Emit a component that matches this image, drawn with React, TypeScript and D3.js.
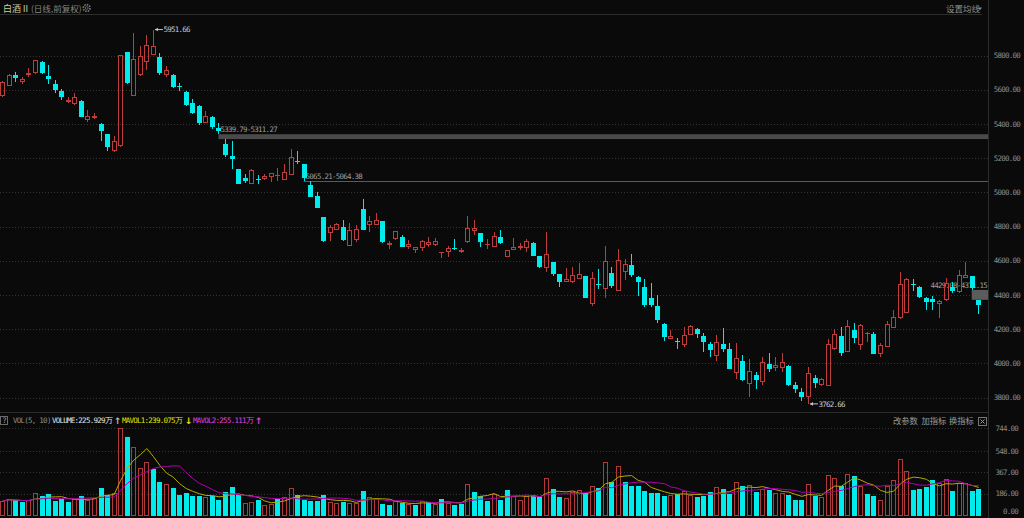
import React from 'react';
import * as d3 from 'd3';

// Daily candles, 白酒Ⅱ (前复权), oldest first
const opens = [
  5563, 5623, 5686, 5645, 5686, 5696, 5762, 5680, 5632, 5594,
  5528, 5515, 5535, 5425, 5433, 5401, 5339, 5242, 5273, 5819,
  5565, 5684, 5764, 5805, 5791, 5688, 5686, 5622, 5585, 5520,
  5506, 5407, 5440, 5376, 5284, 5212, 5136, 5085, 5050, 5077,
  5080, 5091, 5095, 5074, 5101, 5183, 5165, 5043, 4980, 4856,
  4760, 4781, 4795, 4688, 4721, 4900, 4807, 4811, 4832, 4692,
  4725, 4741, 4682, 4664, 4676, 4692, 4690, 4647, 4649, 4676,
  4649, 4708, 4772, 4760, 4690, 4682, 4737, 4624, 4664, 4673,
  4676, 4705, 4627, 4555, 4592, 4522, 4477, 4474, 4495, 4510,
  4349, 4466, 4433, 4526, 4423, 4534, 4575, 4506, 4444, 4384,
  4333, 4232, 4142, 4130, 4109, 4165, 4200, 4160, 4111, 4043,
  4111, 4082, 3941, 4013, 3877, 3932, 3893, 3996, 3974, 3974,
  3986, 3873, 3832, 3805, 3912, 3875, 3867, 4082, 4160, 4068,
  4193, 4107, 4175, 4170, 4053, 4097, 4208, 4263, 4296, 4466,
  4444, 4384, 4374, 4345, 4369, 4448, 4415, 4501, 4510, 4371,
];
const highs = [
  5650, 5690, 5705, 5676, 5725, 5775, 5770, 5744, 5655, 5604,
  5557, 5583, 5537, 5480, 5462, 5405, 5342, 5331, 5805, 5822,
  5930, 5857, 5922, 5951.66, 5813, 5740, 5690, 5638, 5590, 5544,
  5508, 5475, 5444, 5403, 5311.27, 5300, 5138, 5107, 5135, 5099,
  5107, 5114, 5140, 5165, 5251, 5242, 5168, 5064.38, 5004, 4858,
  4809, 4820, 4838, 4819, 4809, 4959, 4863, 4881, 4835, 4716,
  4774, 4750, 4721, 4680, 4720, 4741, 4735, 4653, 4686, 4727,
  4672, 4861, 4838, 4762, 4727, 4766, 4780, 4664, 4731, 4702,
  4727, 4708, 4630, 4766, 4595, 4525, 4559, 4565, 4585, 4512,
  4532, 4550, 4686, 4565, 4668, 4608, 4641, 4510, 4491, 4471,
  4400, 4234, 4195, 4146, 4214, 4224, 4208, 4176, 4126, 4165,
  4205, 4121, 4117, 4048, 4023, 3947, 4035, 4058, 4039, 4058,
  3990, 3892, 3853, 3980, 3932, 3912, 4142, 4199, 4214, 4253,
  4234, 4229, 4181, 4181, 4117, 4247, 4312, 4536, 4501, 4493,
  4454, 4386, 4395, 4368, 4501, 4477, 4546, 4594, 4512, 4371.15,
];
const lows = [
  5555, 5620, 5645, 5632, 5672, 5694, 5690, 5632, 5583, 5540,
  5524, 5513, 5440, 5413, 5429, 5302, 5243, 5234, 5265, 5635,
  5563, 5680, 5715, 5803, 5686, 5676, 5612, 5594, 5505, 5458,
  5394, 5405, 5370, 5339.79, 5208, 5136, 5048, 5056, 5048, 5049,
  5072, 5062, 5066, 5072, 5099, 5164, 5065.21, 4970, 4908, 4712,
  4717, 4780, 4718, 4686, 4711, 4777, 4770, 4809, 4705, 4670,
  4723, 4680, 4670, 4643, 4657, 4678, 4688, 4614, 4624, 4665,
  4647, 4706, 4750, 4678, 4667, 4680, 4700, 4622, 4662, 4662,
  4653, 4625, 4555, 4536, 4512, 4448, 4475, 4469, 4493, 4382,
  4333, 4433, 4380, 4439, 4421, 4487, 4503, 4395, 4332, 4332,
  4234, 4132, 4140, 4082, 4097, 4163, 4146, 4068, 4039, 4015,
  4068, 3965, 3908, 3898, 3805, 3850, 3873, 3951, 3957, 3951,
  3870, 3825, 3781, 3762.66, 3854, 3867, 3865, 4080, 4044, 4066,
  4117, 4078, 4126, 4052, 4039, 4095, 4206, 4260, 4294, 4423,
  4380, 4312, 4312, 4263, 4367, 4409, 4412, 4499, 4429.08, 4288,
];
const closes = [
  5643, 5686, 5668, 5661, 5700, 5772, 5700, 5664, 5598, 5556,
  5542, 5556, 5442, 5444, 5446, 5360, 5265, 5300, 5801, 5637,
  5778, 5797, 5860, 5854, 5700, 5715, 5618, 5614, 5509, 5462,
  5403, 5446, 5382, 5360, 5218, 5195, 5050, 5066, 5130, 5070,
  5095, 5111, 5099, 5119, 5208, 5175, 5085, 4974, 4910, 4717,
  4795, 4813, 4721, 4778, 4784, 4779, 4831, 4838, 4708, 4702,
  4772, 4682, 4696, 4678, 4718, 4712, 4716, 4651, 4673, 4667,
  4662, 4791, 4789, 4708, 4696, 4744, 4702, 4661, 4680, 4688,
  4716, 4627, 4565, 4637, 4522, 4474, 4491, 4516, 4520, 4384,
  4497, 4460, 4598, 4452, 4602, 4581, 4516, 4477, 4341, 4339,
  4251, 4156, 4158, 4123, 4165, 4218, 4170, 4125, 4078, 4126,
  4084, 3967, 4029, 3900, 3955, 3902, 4009, 3965, 3988, 4009,
  3873, 3851, 3805, 3941, 3887, 3910, 4111, 4170, 4058, 4218,
  4150, 4226, 4179, 4054, 4107, 4228, 4273, 4462, 4493, 4456,
  4386, 4360, 4357, 4366, 4472, 4425, 4516, 4519, 4440, 4341,
];
// volume, 万
const volumes = [
  126, 141, 130, 113, 130, 192, 166, 183, 124, 138,
  113, 138, 169, 135, 152, 235, 175, 195, 744, 670,
  582, 405, 454, 400, 286, 266, 235, 172, 192, 166,
  166, 160, 169, 135, 198, 241, 178, 107, 115, 130,
  90, 101, 141, 158, 235, 175, 135, 121, 124, 175,
  118, 107, 118, 109, 104, 209, 158, 141, 98, 92,
  121, 109, 101, 87, 121, 113, 101, 141, 104, 92,
  98, 266, 200, 166, 124, 181, 135, 215, 166, 135,
  166, 169, 160, 317, 224, 158, 147, 203, 220, 195,
  249, 232, 456, 288, 420, 288, 252, 252, 209, 195,
  192, 166, 175, 181, 209, 175, 158, 166, 200, 241,
  224, 186, 288, 250, 263, 203, 229, 218, 189, 189,
  175, 132, 132, 266, 169, 158, 346, 317, 254, 351,
  337, 252, 183, 169, 130, 249, 306, 482, 380, 220,
  222, 240, 303, 276, 314.735, 208.5, 275, 276.5, 209.446, 225.929,
];

const priceTicks = [3800, 4000, 4200, 4400, 4600, 4800, 5000, 5200, 5400, 5600, 5800];
const volTicks = [0, 186, 367, 548, 744];

// price gaps still open: [candle index, upper, lower]
const gapStart = [33, 46, 148];
const gapUpper = [5339.79, 5065.21, 4429.08];
const gapLower = [5311.27, 5064.38, 4371.15];

const BG = '#0a0a0a';
const RED = '#bd3c3c';
const CYAN = '#00ecec';
const GRID = '#353535';
const AXIS = '#8a8a8a';
const MONO = "'DejaVu Sans Mono', monospace";
const CJK = "'Noto Sans CJK SC', sans-serif";

const PLOT_R = 988;

const ma = (n: number) =>
  volumes.map((_, i) => {
    const s = volumes.slice(Math.max(0, i - n + 1), i + 1);
    return d3.mean(s) as number;
  });

const App: React.FC = () => {
  const idx = d3.range(closes.length);
  const x = d3.scalePoint<number>().domain(idx).range([2.3, 978.25]);
  const yP = d3.scaleLinear().domain([3800, 5800]).range([397.5, 55.5]);
  const yV = d3.scaleLinear().domain([0, 744]).range([515.5, 428.3]);

  const ma5 = ma(5);
  const ma10 = ma(10);
  const maLine = d3
    .line<number>()
    .x((_, i) => x(i) as number + 0.5)
    .y((d) => yV(d));

  const hiIdx = d3.maxIndex(highs);
  const loIdx = d3.minIndex(lows);

  const numText = { fontFamily: MONO, fontSize: 7.5, letterSpacing: -0.75 } as const;

  return (
    <div style={{ position: 'fixed', left: 0, top: 0, width: 1024, height: 518, background: BG }}>
      <svg width={1024} height={518} style={{ display: 'block' }}>
        <rect width={1024} height={518} fill={BG} />

        {/* header */}
        <text x={3} y={11.5} fontFamily={CJK} fontSize={9} fill="#cfcaa0">白酒Ⅱ</text>
        <text x={31} y={11.5} fontFamily={CJK} fontSize={8.5} fill="#858585">(日线,前复权)</text>
        <g transform="translate(86.7,8)" fill="none" stroke="#777">
          <circle r={3.4} strokeWidth={1.6} strokeDasharray="1.6 1" />
          <circle r={1.4} strokeWidth={0.8} />
        </g>
        <text x={946} y={11.5} fontFamily={CJK} fontSize={8.5} fill="#8f8f8f">设置均线</text>
        <path d="M978,7.5 L982,7.5 L980,10 Z" fill="#8f8f8f" />
        <line x1={0} x2={982} y1={14.5} y2={14.5} stroke="#2c2c2c" />

        {/* frame */}
        <line x1={PLOT_R + 0.5} x2={PLOT_R + 0.5} y1={0} y2={518} stroke="#2c2c2c" />
        <line x1={0} x2={PLOT_R} y1={412.5} y2={412.5} stroke="#2c2c2c" />

        {/* price grid + axis */}
        {priceTicks.map((t) => (
          <g key={t}>
            <line x1={0} x2={PLOT_R} y1={Math.round(yP(t)) + 0.5} y2={Math.round(yP(t)) + 0.5}
              stroke={GRID} strokeDasharray="1 2" />
            <text x={1020} y={yP(t) + 2.7} textAnchor="end" fill={AXIS} {...numText}>{t.toFixed(2)}</text>
          </g>
        ))}

        {/* open gaps */}
        {gapStart.map((s, k) => {
          const x0 = x(s) as number;
          const top = yP(gapUpper[k]);
          const bot = yP(gapLower[k]);
          const label = `${gapUpper[k].toFixed(2)}-${gapLower[k].toFixed(2)}`;
          const nearEdge = PLOT_R - x0 < 60;
          return (
            <g key={s}>
              {bot - top < 1.5 ? (
                <line x1={x0} x2={PLOT_R} y1={Math.round(top) + 0.5} y2={Math.round(top) + 0.5} stroke="#5a5a5a" />
              ) : (
                <rect x={x0} y={top} width={PLOT_R - x0} height={bot - top}
                  fill={nearEdge ? '#6a6a6a' : '#4a4a4a'} opacity={nearEdge ? 0.85 : 1} />
              )}
              <text x={nearEdge ? 987 : x0 + 2} y={top - 2} textAnchor={nearEdge ? 'end' : 'start'}
                fill="#9c9c9c" {...numText}>{label}</text>
            </g>
          );
        })}

        {/* candles */}
        <g shapeRendering="crispEdges">
          {idx.map((i) => {
            const o = opens[i];
            const c = closes[i];
            const cx = Math.round(x(i) as number);
            const up = c >= o;
            const yTop = Math.round(yP(Math.max(o, c)));
            const yBot = Math.round(yP(Math.min(o, c)));
            const yH = Math.round(yP(highs[i]));
            const yL = Math.round(yP(lows[i]));
            const bh = Math.max(1, yBot - yTop);
            if (up) {
              return (
                <g key={i}>
                  <rect x={cx} y={yH} width={1} height={Math.max(0, yTop - yH)} fill={RED} />
                  <rect x={cx} y={yTop + bh} width={1} height={Math.max(0, yL - yTop - bh)} fill={RED} />
                  {bh <= 2 ? (
                    <rect x={cx - 2} y={yTop} width={5} height={bh} fill={RED} />
                  ) : (
                    <rect x={cx - 1.5} y={yTop + 0.5} width={4} height={bh - 1} fill="none" stroke={RED} />
                  )}
                </g>
              );
            }
            return (
              <g key={i}>
                <rect x={cx} y={yH} width={1} height={Math.max(1, yL - yH)} fill={CYAN} />
                <rect x={cx - 2} y={yTop} width={5} height={bh} fill={CYAN} />
              </g>
            );
          })}
        </g>

        {/* extreme labels */}
        <g fill="#c8c8c8" stroke="#c8c8c8">
          <line x1={(x(hiIdx) as number) + 2} x2={(x(hiIdx) as number) + 10} y1={yP(highs[hiIdx])} y2={yP(highs[hiIdx])} />
          <path d={`M${(x(hiIdx) as number) + 2},${yP(highs[hiIdx])} l3,-1.8 v3.6 Z`} stroke="none" />
          <text x={(x(hiIdx) as number) + 10.5} y={yP(highs[hiIdx]) + 2.7} stroke="none" {...numText}>
            {highs[hiIdx].toFixed(2)}
          </text>
          <line x1={(x(loIdx) as number) + 2} x2={(x(loIdx) as number) + 10} y1={yP(lows[loIdx])} y2={yP(lows[loIdx])} />
          <path d={`M${(x(loIdx) as number) + 2},${yP(lows[loIdx])} l3,-1.8 v3.6 Z`} stroke="none" />
          <text x={(x(loIdx) as number) + 10.5} y={yP(lows[loIdx]) + 2.7} stroke="none" {...numText}>
            {lows[loIdx].toFixed(2)}
          </text>
        </g>

        {/* volume header */}
        <rect x={0.5} y={416.5} width={7} height={8} fill="none" stroke="#6a6a6a" />
        <text x={2.2} y={423} fill="#9a9a9a" {...numText}>?</text>
        <text x={13} y={423} fill="#8e8e8e" {...numText}>VOL(5, 10)</text>
        <text x={52} y={423} fill="#e6e6e6" {...numText}>VOLUME:225.929万</text>
        <text x={114} y={423.5} fill="#bdbdbd" fontFamily="'DejaVu Sans'" fontSize={9} fontWeight="bold">↑</text>
        <text x={122} y={423} fill="#e8e400" {...numText}>MAVOL1:239.075万</text>
        <text x={185} y={423.5} fill="#e8e400" fontFamily="'DejaVu Sans'" fontSize={9} fontWeight="bold">↓</text>
        <text x={193} y={423} fill="#e040e0" {...numText}>MAVOL2:255.111万</text>
        <text x={255} y={423.5} fill="#e040e0" fontFamily="'DejaVu Sans'" fontSize={9} fontWeight="bold">↑</text>
        <text x={893} y={423.5} fontFamily={CJK} fontSize={8.3} fill="#9a9a9a">改参数</text>
        <text x={921.5} y={423.5} fontFamily={CJK} fontSize={8.3} fill="#9a9a9a">加指标</text>
        <text x={949} y={423.5} fontFamily={CJK} fontSize={8.3} fill="#9a9a9a">换指标</text>
        <rect x={978.5} y={417.5} width={8} height={8} fill="none" stroke="#777" />
        <path d="M980.5,419.5 L984.5,423.5 M984.5,419.5 L980.5,423.5" stroke="#999" />

        {/* volume grid + axis */}
        {volTicks.map((t) => (
          <g key={t}>
            {t > 0 && (
              <line x1={0} x2={PLOT_R} y1={Math.round(yV(t)) + 0.5} y2={Math.round(yV(t)) + 0.5}
                stroke={GRID} strokeDasharray="1 2" />
            )}
            <text x={1018} y={Math.min(yV(t), 511.3) + 2.7} textAnchor="end" fill={AXIS} {...numText}>
              {t.toFixed(2)}
            </text>
          </g>
        ))}

        {/* volume bars: colour by close vs previous close */}
        <g shapeRendering="crispEdges">
          {idx.map((i) => {
            const prev = i === 0 ? opens[0] : closes[i - 1];
            const up = closes[i] >= prev;
            const cx = Math.round(x(i) as number);
            const top = Math.round(yV(volumes[i]));
            const base = Math.round(yV(0));
            return up ? (
              <rect key={i} x={cx - 1.5} y={top + 0.5} width={4} height={base - top - 1} fill="none" stroke="#b03a3a" />
            ) : (
              <rect key={i} x={cx - 2} y={top} width={5} height={base - top} fill={CYAN} />
            );
          })}
        </g>
        <path d={maLine(ma5) ?? ''} fill="none" stroke="#b3ab00" strokeWidth={1} />
        <path d={maLine(ma10) ?? ''} fill="none" stroke="#b000b0" strokeWidth={1} />
      </svg>
    </div>
  );
};

export default App;
